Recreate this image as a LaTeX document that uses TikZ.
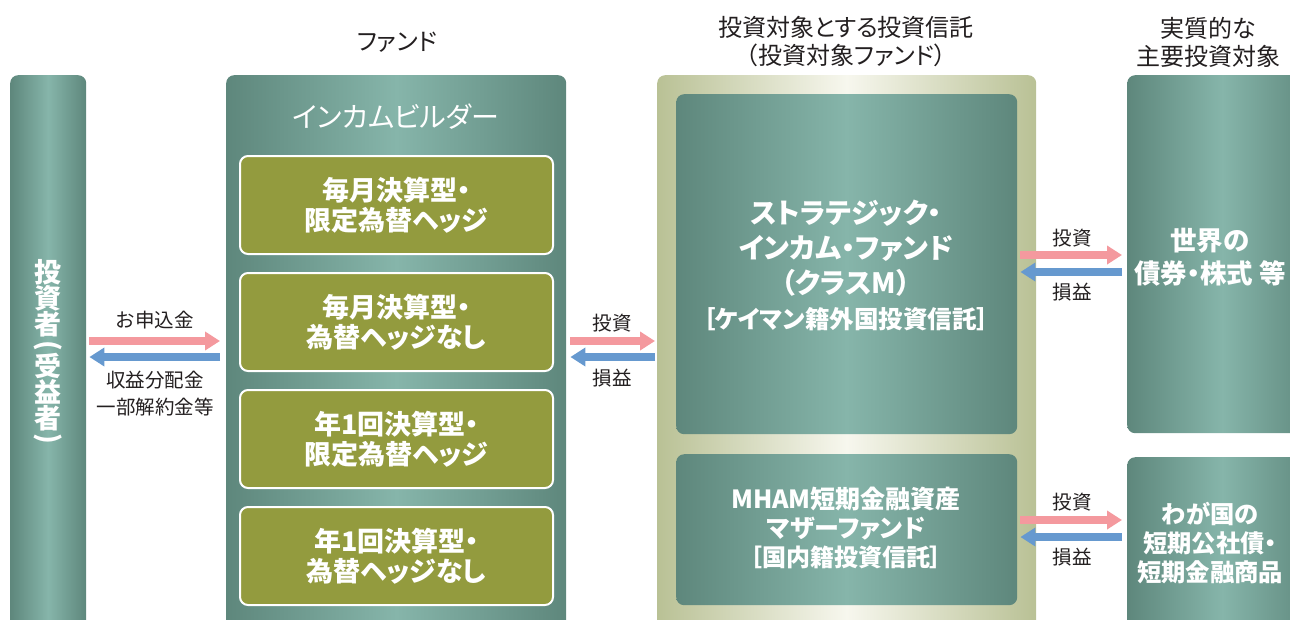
\documentclass[tikz,border=0pt]{standalone}
\usepackage{fontspec}
\usepackage{graphicx}
\setmainfont{Noto Sans CJK JP}[RawFeature=+palt]
\newfontfamily\jpfix{Noto Sans CJK JP}
\usetikzlibrary{arrows.meta,calc}
\definecolor{tealD}{HTML}{5E877C}
\definecolor{tealL}{HTML}{86B5AA}
\definecolor{oliveF}{HTML}{939B3E}
\definecolor{beigeD}{HTML}{B9C195}
\definecolor{beigeL}{HTML}{F7F7EE}
\definecolor{pinkA}{HTML}{F4999E}
\definecolor{blueA}{HTML}{6699CF}
\definecolor{txt}{HTML}{231F20}
\newcommand\vch[1]{\smash{#1}}
\newcommand\vpar[1]{\smash{\rotatebox[origin=c]{-90}{#1}}}
\tikzset{
  tealbox/.style={rounded corners=8pt, left color=tealD, right color=tealD, middle color=tealL, draw=none, inner sep=0pt, anchor=north west},
  beigebox/.style={rounded corners=8pt, left color=beigeD, right color=beigeD, middle color=beigeL, draw=none, inner sep=0pt, anchor=north west},
  olivebox/.style={rounded corners=8pt, fill=oliveF, draw=white, line width=2pt, inner sep=0pt, anchor=north west, minimum width=313pt, minimum height=98pt},
  head/.style={text=txt, align=center, font=\fontsize{24}{28}\selectfont},
  lbl/.style={text=txt, align=center, font=\fontsize{19.5}{27}\selectfont},
  wtxt/.style={text=white, align=center, font=\bfseries\fontsize{27}{30}\selectfont},
  pinkarr/.style={draw=pinkA, line width=8pt, -{Triangle[length=15pt,width=18pt]}},
  bluearr/.style={draw=blueA, line width=8pt, -{Triangle[length=15pt,width=18pt]}},
}
\begin{document}
\begin{tikzpicture}[x=1pt,y=-1pt]
\useasboundingbox (0,0) rectangle (1290,619);
\clip (0,0) rectangle (1290,619);
% boxes
\node[tealbox, minimum width=76pt, minimum height=580pt] (inv) at (10,75) {};
\node[tealbox, minimum width=340pt, minimum height=580pt] (fund) at (226,75) {};
\node[olivebox] (f1) at (239,155) {};
\node[olivebox] (f2) at (239,272) {};
\node[olivebox] (f3) at (239,389) {};
\node[olivebox] (f4) at (239,506) {};
\node[beigebox, minimum width=379pt, minimum height=580pt] (tgt) at (657,75) {};
\node[tealbox, minimum width=341pt, minimum height=340pt] (sic) at (676,94) {};
\node[tealbox, minimum width=341pt, minimum height=151pt] (mham) at (676,454) {};
\node[tealbox, minimum width=190pt, minimum height=358pt] (world) at (1127,75) {};
\node[tealbox, minimum width=190pt, minimum height=200pt] (jp) at (1127,457) {};
% headings
\node[head] (hfund) at (397,42) {ファンド};
\node[head] (htgt) at (846,42) {投資対象とする投資信託\\（投資対象ファンド）};
\node[head] (hmain) at (1208,42) {実質的な\\主要投資対象};
% texts
\node[text=white, font=\fontsize{28}{29}\selectfont] (ftitle) at (396,117) {インカムビルダー};
\node[wtxt] (t1) at (f1.center) {毎月決算型・\\限定為替ヘッジ};
\node[wtxt] (t2) at (f2.center) {毎月決算型・\\為替ヘッジなし};
\node[wtxt] (t3) at (f3.center) {年1回決算型・\\限定為替ヘッジ};
\node[wtxt] (t4) at (f4.center) {年1回決算型・\\為替ヘッジなし};
\node[text=white, align=center, inner sep=0pt, font=\jpfix\bfseries\fontsize{27}{26}\selectfont] (invtxt) at (48,364.5) {\vch{投}\\\vch{資}\\\vch{者}\\[-6pt]\vpar{(}\\[-4pt]\vch{受}\\\vch{益}\\\vch{者}\\[-7pt]\vpar{)}};
\node[wtxt, font=\bfseries\fontsize{28}{35}\selectfont] (sictxt) at (846,265) {ストラテジック・\\インカム・ファンド\\（クラスM）\\{\fontsize{24.5}{35}\selectfont［ケイマン籍外国投資信託］}};
\node[wtxt, font=\bfseries\fontsize{25}{29}\selectfont] (mhamtxt) at (846,528) {MHAM短期金融資産\\マザーファンド\\{\fontsize{24}{29}\selectfont［国内籍投資信託］}};
\node[wtxt, font=\bfseries\fontsize{26.5}{33}\selectfont] (worldtxt) at (1210,257) {世界の\\債券・株式 等};
\node[wtxt, font=\bfseries\fontsize{24.3}{29}\selectfont] (jptxt) at (1210,543) {わが国の\\短期公社債・\\短期金融商品};
% arrows
\coordinate (ya) at (0,341);
\coordinate (yb) at (0,357);
\coordinate (yc) at (0,255);
\coordinate (yd) at (0,272);
\coordinate (ye) at (0,520);
\coordinate (yf) at (0,537);
\draw[pinkarr, shorten <=3pt, shorten >=6pt] (inv.east |- ya) -- (fund.west |- ya);
\draw[bluearr, shorten <=6pt, shorten >=3pt] (fund.west |- yb) -- (inv.east |- yb);
\draw[pinkarr, shorten <=4pt, shorten >=2pt] (fund.east |- ya) -- (tgt.west |- ya);
\draw[bluearr, shorten <=2pt, shorten >=4pt] (tgt.west |- yb) -- (fund.east |- yb);
\draw[pinkarr, shorten <=3pt, shorten >=5pt] (sic.east |- yc) -- (world.west |- yc);
\draw[bluearr, shorten <=5pt, shorten >=3pt] (world.west |- yd) -- (sic.east |- yd);
\draw[pinkarr, shorten <=3pt, shorten >=5pt] (mham.east |- ye) -- (jp.west |- ye);
\draw[bluearr, shorten <=5pt, shorten >=3pt] (jp.west |- yf) -- (mham.east |- yf);
% labels
\node[lbl] (l1) at (155,320) {お申込金};
\node[lbl] (l2) at (155,394) {収益分配金\\一部解約金等};
\node[lbl] (l3) at (612,323) {投資};
\node[lbl] (l4) at (612,378) {損益};
\node[lbl] (l5) at (1072,238) {投資};
\node[lbl] (l6) at (1072,292) {損益};
\node[lbl] (l7) at (1072,502) {投資};
\node[lbl] (l8) at (1072,557) {損益};
\end{tikzpicture}
\end{document}
